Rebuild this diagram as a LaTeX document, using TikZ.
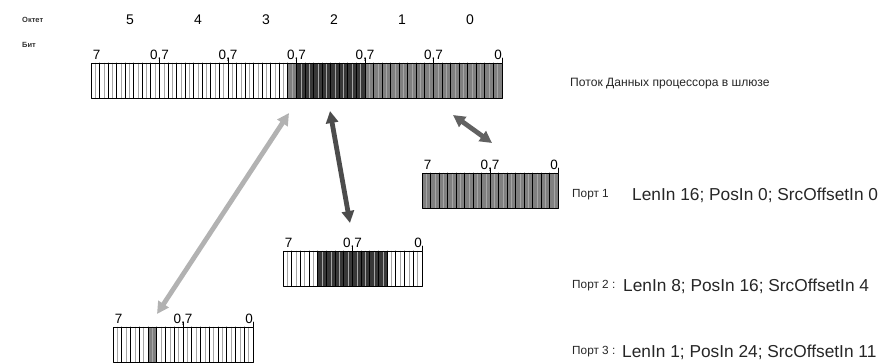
\documentclass[tikz,border=0pt]{standalone}
\usepackage{fontspec}
\setmainfont{Liberation Sans}
\usetikzlibrary{arrows.meta}

\definecolor{midgray}{gray}{0.50}
\definecolor{deepgray}{gray}{0.22}
\definecolor{lightarrow}{gray}{0.70}
\definecolor{darkarrow}{gray}{0.30}
\definecolor{midarrow}{gray}{0.38}

\tikzset{
  bitline/.style={black,line width=.9pt},
  faintline/.style={black!35,line width=.5pt},
  barframe/.style={draw=black,line width=.9pt,inner sep=0pt,minimum height=35pt},
  bitlab/.style={font=\fontsize{13.5}{14}\selectfont,inner sep=0pt},
  octlab/.style={font=\fontsize{14}{14}\selectfont,inner sep=0pt},
  rowlab/.style={font=\fontsize{7.5}{8}\selectfont\bfseries,anchor=west,inner sep=0pt,text=black!80},
  bustag/.style={font=\fontsize{12.1}{13}\selectfont,anchor=west,inner sep=0pt,text=black!85},
  porttag/.style={font=\fontsize{11.8}{12}\selectfont,anchor=west,inner sep=0pt,text=black!85},
  porttxt/.style={font=\fontsize{17.3}{18}\selectfont,anchor=west,inner sep=0pt,text=black!85},
  portarrow/.style={line width=4.8pt,{Triangle[width=12pt,length=12pt]}-{Triangle[width=12pt,length=12pt]}}
}

\begin{document}
\begin{tikzpicture}[x=1pt,y=-1pt,line cap=round,line join=round]
\path[use as bounding box] (0,0) rectangle (890,362);

% row captions and octet numbers
\node[rowlab] (octcap) at (22,20) {Октет};
\node[rowlab] (bitcap) at (22,45) {Бит};
\foreach \k/\n in {0/5,1/4,2/3,3/2,4/1,5/0}
  \node[octlab] (oct\n) at (130+68*\k,20) {\n};

% data bus of the gateway processor
\begin{scope}[shift={(91,63)},x=8.5625pt]
  \fill[midgray] (23,0) rectangle (24,35);
  \fill[deepgray] (24,0) rectangle (32,35);
  \fill[midgray] (32,0) rectangle (48,35);
  \foreach \i in {0,...,47} \draw[faintline] (\i+.5,0)--(\i+.5,35);
  \foreach \i in {1,...,47} \draw[bitline] (\i,0)--(\i,35);
  \node[barframe,minimum width=411pt,anchor=north west] (bus) at (0,0) {};
  \node[bitlab,anchor=base west] (busl) at (.2,-4) {7};
  \foreach \k in {1,...,5}{
    \draw[bitline] (8*\k,0)--(8*\k,-5);
    \node[bitlab,anchor=base] (busm\k) at (8*\k,-4) {0,7};
  }
  \draw[bitline] (48,0)--(48,-5);
  \node[bitlab,anchor=base east] (busr) at (48,-4) {0};
\end{scope}
\node[bustag] (bustxt) at (570,84) {Поток Данных процессора в шлюзе};

% port 1
\begin{scope}[shift={(422,173)},x=8.5pt]
  \fill[midgray] (0,0) rectangle (16,35);
  \foreach \i in {0,...,15} \draw[faintline] (\i+.5,0)--(\i+.5,35);
  \foreach \i in {1,...,15} \draw[bitline] (\i,0)--(\i,35);
  \node[barframe,minimum width=136pt,anchor=north west] (bar1) at (0,0) {};
  \node[bitlab,anchor=base west] (bar1l) at (.2,-4) {7};
  \node[bitlab,anchor=base] (bar1m) at (8,-4) {0,7};
  \node[bitlab,anchor=base east] (bar1r) at (16,-4) {0};
  \draw[bitline] (8,0)--(8,-5) (16,0)--(16,-5);
\end{scope}

% port 2
\begin{scope}[shift={(283,251)},x=8.6875pt]
  \fill[deepgray] (4,0) rectangle (12,35);
  \foreach \i in {0,...,15} \draw[faintline] (\i+.5,0)--(\i+.5,35);
  \foreach \i in {1,...,15} \draw[bitline] (\i,0)--(\i,35);
  \node[barframe,minimum width=139pt,anchor=north west] (bar2) at (0,0) {};
  \node[bitlab,anchor=base west] (bar2l) at (.2,-4) {7};
  \node[bitlab,anchor=base] (bar2m) at (8,-4) {0,7};
  \node[bitlab,anchor=base east] (bar2r) at (16,-4) {0};
  \draw[bitline] (8,0)--(8,-5) (16,0)--(16,-5);
\end{scope}

% port 3
\begin{scope}[shift={(113,327)},x=8.75pt]
  \fill[midgray] (4,0) rectangle (5,35);
  \foreach \i in {0,...,15} \draw[faintline] (\i+.5,0)--(\i+.5,35);
  \foreach \i in {1,...,15} \draw[bitline] (\i,0)--(\i,35);
  \node[barframe,minimum width=140pt,anchor=north west] (bar3) at (0,0) {};
  \node[bitlab,anchor=base west] (bar3l) at (.2,-4) {7};
  \node[bitlab,anchor=base] (bar3m) at (8,-4) {0,7};
  \node[bitlab,anchor=base east] (bar3r) at (16,-4) {0};
  \draw[bitline] (8,0)--(8,-5) (16,0)--(16,-5);
\end{scope}

% transfers between bus and ports
\coordinate (up1) at (453,115);
\coordinate (dn1) at (492,143);
\coordinate (up2) at (330,111);
\coordinate (dn2) at (350,223);
\coordinate (up3) at (289,113);
\coordinate (dn3) at (157,314);
\draw[portarrow,draw=midarrow,fill=midarrow] (up1)--(dn1);
\draw[portarrow,draw=darkarrow,fill=darkarrow] (up2)--(dn2);
\draw[portarrow,draw=lightarrow,fill=lightarrow] (up3)--(dn3);

% port parameters
\node[porttag] (tag1) at (572,195) {Порт 1};
\node[porttxt] (par1) at (632,195) {LenIn 16; PosIn 0; SrcOffsetIn 0};
\node[porttag] (tag2) at (572,286) {Порт 2 :};
\node[porttxt] (par2) at (623,286) {LenIn 8; PosIn 16; SrcOffsetIn 4};
\node[porttag] (tag3) at (572,352) {Порт 3 :};
\node[porttxt] (par3) at (622,352) {LenIn 1; PosIn 24; SrcOffsetIn 11};
\end{tikzpicture}
\end{document}
